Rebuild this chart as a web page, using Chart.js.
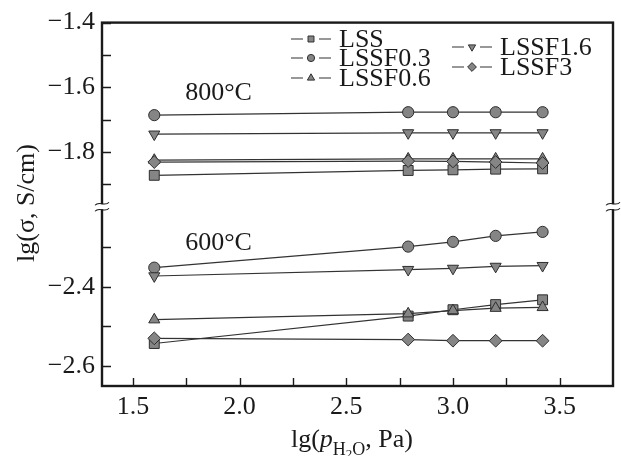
<!DOCTYPE html>
<html><head><meta charset="utf-8">
<script src="https://cdn.jsdelivr.net/npm/chart.js@4/dist/chart.umd.min.js"></script>
<style>html,body{margin:0;padding:0;background:#fff;}#wrap{width:621px;height:456px;}</style>
</head><body><div id="wrap"><canvas id="c" width="621" height="456"></canvas></div>
<script>
// ---- data ----
const xValues = [1.6, 2.79, 3.0, 3.2, 3.42];
const seriesNames = ['LSS', 'LSSF0.3', 'LSSF0.6', 'LSSF1.6', 'LSSF3'];
const t800_LSS     = [-1.872, -1.857, -1.855, -1.853, -1.852];
const t800_LSSF03  = [-1.686, -1.677, -1.677, -1.677, -1.677];
const t800_LSSF06  = [-1.825, -1.821, -1.821, -1.821, -1.821];
const t800_LSSF16  = [-1.745, -1.741, -1.741, -1.741, -1.741];
const t800_LSSF3   = [-1.831, -1.828, -1.829, -1.831, -1.834];
const t600_LSS     = [-2.543, -2.474, -2.458, -2.445, -2.433];
const t600_LSSF03  = [-2.352, -2.299, -2.287, -2.272, -2.262];
const t600_LSSF06  = [-2.483, -2.468, -2.460, -2.454, -2.452];
const t600_LSSF16  = [-2.373, -2.357, -2.354, -2.349, -2.347];
const t600_LSSF3   = [-2.530, -2.533, -2.536, -2.536, -2.536];
const xTickValues = [1.5, 1.75, 2.0, 2.25, 2.5, 2.75, 3.0, 3.25, 3.5];
const xTickLabels = ['1.5', '', '2.0', '', '2.5', '', '3.0', '', '3.5'];
const yTopTickValues = [-1.4, -1.5, -1.6, -1.7, -1.8, -1.9];
const yTopTickLabels = ['\u22121.4', '', '\u22121.6', '', '\u22121.8', ''];
const yBotTickValues = [-2.3, -2.4, -2.5, -2.6];
const yBotTickLabels = ['', '\u22122.4', '', '\u22122.6'];
const tempLabels = ['800\u00b0C', '600\u00b0C'];

const data800 = [t800_LSS, t800_LSSF03, t800_LSSF06, t800_LSSF16, t800_LSSF3];
const data600 = [t600_LSS, t600_LSSF03, t600_LSSF06, t600_LSSF16, t600_LSSF3];
const styles = [
  {pointStyle: 'rect', radius: 7, rotation: 0, legR: 4.2},
  {pointStyle: 'circle', radius: 5.6, rotation: 0, legR: 3.6},
  {pointStyle: 'triangle', radius: 6.4, rotation: 0, legR: 4.2},
  {pointStyle: 'triangle', radius: 6.4, rotation: 180, legR: 4.2},
  {pointStyle: 'rectRot', radius: 6.4, rotation: 0, legR: 4.4}
];
const FILL = '#858585', EDGE = '#2e2e2e', LINE = '#333333';
const FONT = "'Liberation Serif', 'Times New Roman', serif";

const datasets = [];
[[data800, 'yTop'], [data600, 'yBot']].forEach(([set, axis]) => {
  set.forEach((vals, i) => {
    const s = styles[i];
    datasets.push({
      label: seriesNames[i],
      data: xValues.map((x, k) => ({x: x, y: vals[k]})),
      yAxisID: axis,
      order: 5 - i,
      borderColor: LINE, borderWidth: 1.2,
      backgroundColor: FILL,
      pointBackgroundColor: FILL, pointBorderColor: EDGE, pointBorderWidth: 1,
      pointStyle: s.pointStyle, pointRadius: s.radius, pointRotation: s.rotation,
      pointHoverRadius: s.radius, tension: 0, fill: false
    });
  });
});

function drawMarker(ctx, style, rot, x, y, r) {
  ctx.save();
  ctx.translate(x, y);
  ctx.rotate(rot * Math.PI / 180);
  ctx.beginPath();
  if (style === 'circle') ctx.arc(0, 0, r, 0, 2 * Math.PI);
  else if (style === 'rect') { const h = r * Math.SQRT1_2; ctx.rect(-h, -h, 2 * h, 2 * h); }
  else if (style === 'rectRot') { ctx.moveTo(0, -r); ctx.lineTo(r, 0); ctx.lineTo(0, r); ctx.lineTo(-r, 0); ctx.closePath(); }
  else if (style === 'triangle') {
    for (let k = 0; k < 3; k++) { const a = k * 2 * Math.PI / 3; const px = Math.sin(a) * r, py = -Math.cos(a) * r; k ? ctx.lineTo(px, py) : ctx.moveTo(px, py); }
    ctx.closePath();
  }
  ctx.fillStyle = FILL; ctx.fill();
  ctx.lineWidth = 1; ctx.strokeStyle = EDGE; ctx.stroke();
  ctx.restore();
}

function tilde(ctx, x, y) {
  ctx.beginPath();
  ctx.moveTo(x - 7, y + 1.5);
  ctx.bezierCurveTo(x - 3, y - 3.5, x + 3, y + 3.5, x + 7, y - 1.5);
  ctx.stroke();
}

const decor = {
  id: 'decor',
  afterDatasetsDraw(chart) {
    const ctx = chart.ctx, ca = chart.chartArea;
    const xs = chart.scales.x, yt = chart.scales.yTop, yb = chart.scales.yBot;
    ctx.save();
    ctx.strokeStyle = '#1a1a1a';
    // frame
    ctx.lineWidth = 2.4;
    ctx.strokeRect(ca.left, ca.top, ca.right - ca.left, ca.bottom - ca.top);
    // inner ticks
    ctx.lineWidth = 1.4;
    ctx.beginPath();
    yTopTickValues.forEach(v => { const p = Math.round(yt.getPixelForValue(v)) + 0.5; ctx.moveTo(ca.left, p); ctx.lineTo(ca.left + 9, p); });
    yBotTickValues.forEach(v => { const p = Math.round(yb.getPixelForValue(v)) + 0.5; ctx.moveTo(ca.left, p); ctx.lineTo(ca.left + 9, p); });
    xTickValues.forEach(v => { const p = Math.round(xs.getPixelForValue(v)) + 0.5; ctx.moveTo(p, ca.bottom); ctx.lineTo(p, ca.bottom - 8); });
    ctx.stroke();
    // axis break
    const by = Math.min(yt.bottom, yb.bottom) - 4;
    ctx.fillStyle = '#fff';
    ctx.fillRect(ca.left - 3, by - 2, 6, 5);
    ctx.fillRect(ca.right - 3, by - 2, 6, 5);
    ctx.lineWidth = 1.1;
    tilde(ctx, ca.left, by - 2.5);
    tilde(ctx, ca.left, by + 3.5);
    tilde(ctx, ca.right, by - 2.5);
    tilde(ctx, ca.right, by + 3.5);

    // temperature labels
    ctx.fillStyle = '#1a1a1a';
    ctx.font = '26px ' + FONT;
    ctx.textAlign = 'left'; ctx.textBaseline = 'middle';
    ctx.fillText(tempLabels[0], xs.getPixelForValue(1.745), yt.getPixelForValue(-1.618));
    ctx.fillText(tempLabels[1], xs.getPixelForValue(1.745), yb.getPixelForValue(-2.29));

    // y title
    ctx.save();
    ctx.translate(27, 203);
    ctx.rotate(-Math.PI / 2);
    ctx.textAlign = 'center'; ctx.textBaseline = 'middle';
    ctx.fillText('lg(\u03c3, S/cm)', 0, 0);
    ctx.restore();

    // x title with subscripts
    const parts = [
      {t: 'lg(', f: '26px ' + FONT, dy: 0},
      {t: 'p', f: 'italic 26px ' + FONT, dy: 0},
      {t: 'H', f: '18px ' + FONT, dy: 8},
      {t: '2', f: '13px ' + FONT, dy: 11},
      {t: 'O', f: '18px ' + FONT, dy: 8},
      {t: ', Pa)', f: '26px ' + FONT, dy: 0}
    ];
    let tw = 0;
    parts.forEach(p => { ctx.font = p.f; p.w = ctx.measureText(p.t).width; tw += p.w; });
    let tx = 352 - tw / 2;
    const base = 447;
    ctx.textAlign = 'left'; ctx.textBaseline = 'alphabetic';
    parts.forEach(p => { ctx.font = p.f; ctx.fillText(p.t, tx, base + p.dy); tx += p.w; });

    // legend
    const leg = [
      {i: 0, x: 311, y: 39}, {i: 1, x: 311, y: 58}, {i: 2, x: 311, y: 78},
      {i: 3, x: 472, y: 47}, {i: 4, x: 472, y: 67}
    ];
    ctx.font = '26px ' + FONT;
    ctx.textBaseline = 'middle';
    leg.forEach(e => {
      const s = styles[e.i];
      ctx.strokeStyle = LINE; ctx.lineWidth = 1.2;
      ctx.beginPath();
      ctx.moveTo(e.x - 20, e.y); ctx.lineTo(e.x - 8, e.y);
      ctx.moveTo(e.x + 8, e.y); ctx.lineTo(e.x + 20, e.y);
      ctx.stroke();
      drawMarker(ctx, s.pointStyle, s.rotation, e.x, e.y, s.legR);
      ctx.fillStyle = '#1a1a1a';
      ctx.fillText(seriesNames[e.i], e.x + 28, e.y + 1);
    });
    ctx.restore();
  }
};

const yTickFont = {family: FONT, size: 26};
new Chart(document.getElementById('c'), {
  type: 'line',
  data: {datasets: datasets},
  options: {
    responsive: false, animation: false,
    layout: {padding: {top: 20, right: 1, left: 0, bottom: 0}},
    plugins: {legend: {display: false}, tooltip: {enabled: false}},
    scales: {
      x: {
        type: 'linear', position: 'bottom', min: 1.355, max: 3.75,
        afterBuildTicks: s => { s.ticks = xTickValues.map(v => ({value: v})); },
        afterFit: s => { s.height = 70; },
        grid: {display: false, drawTicks: false}, border: {display: false},
        ticks: {autoSkip: false, maxRotation: 0, padding: 6, color: '#1a1a1a', font: yTickFont,
          callback: (v) => { const k = xTickValues.findIndex(t => Math.abs(t - v) < 1e-6); return k >= 0 ? xTickLabels[k] : ''; }}
      },
      yBot: {
        type: 'linear', position: 'left', stack: 'y', stackWeight: 177, min: -2.65, max: -2.2075,
        afterBuildTicks: s => { s.ticks = yBotTickValues.map(v => ({value: v})); },
        afterFit: s => { s.width = 102; },
        grid: {display: false, drawTicks: false}, border: {display: false},
        ticks: {autoSkip: false, padding: 7, color: '#1a1a1a', font: yTickFont,
          callback: (v) => { const k = yBotTickValues.findIndex(t => Math.abs(t - v) < 1e-6); return k >= 0 ? yBotTickLabels[k] : ''; }}
      },
      yTop: {
        type: 'linear', position: 'left', stack: 'y', stackWeight: 189, min: -1.98, max: -1.4,
        afterBuildTicks: s => { s.ticks = yTopTickValues.map(v => ({value: v})); },
        afterFit: s => { s.width = 102; },
        grid: {display: false, drawTicks: false}, border: {display: false},
        ticks: {autoSkip: false, padding: 7, color: '#1a1a1a', font: yTickFont,
          callback: (v) => { const k = yTopTickValues.findIndex(t => Math.abs(t - v) < 1e-6); return k >= 0 ? yTopTickLabels[k] : ''; }}
      }
    }
  },
  plugins: [decor]
});
</script>
</body></html>
